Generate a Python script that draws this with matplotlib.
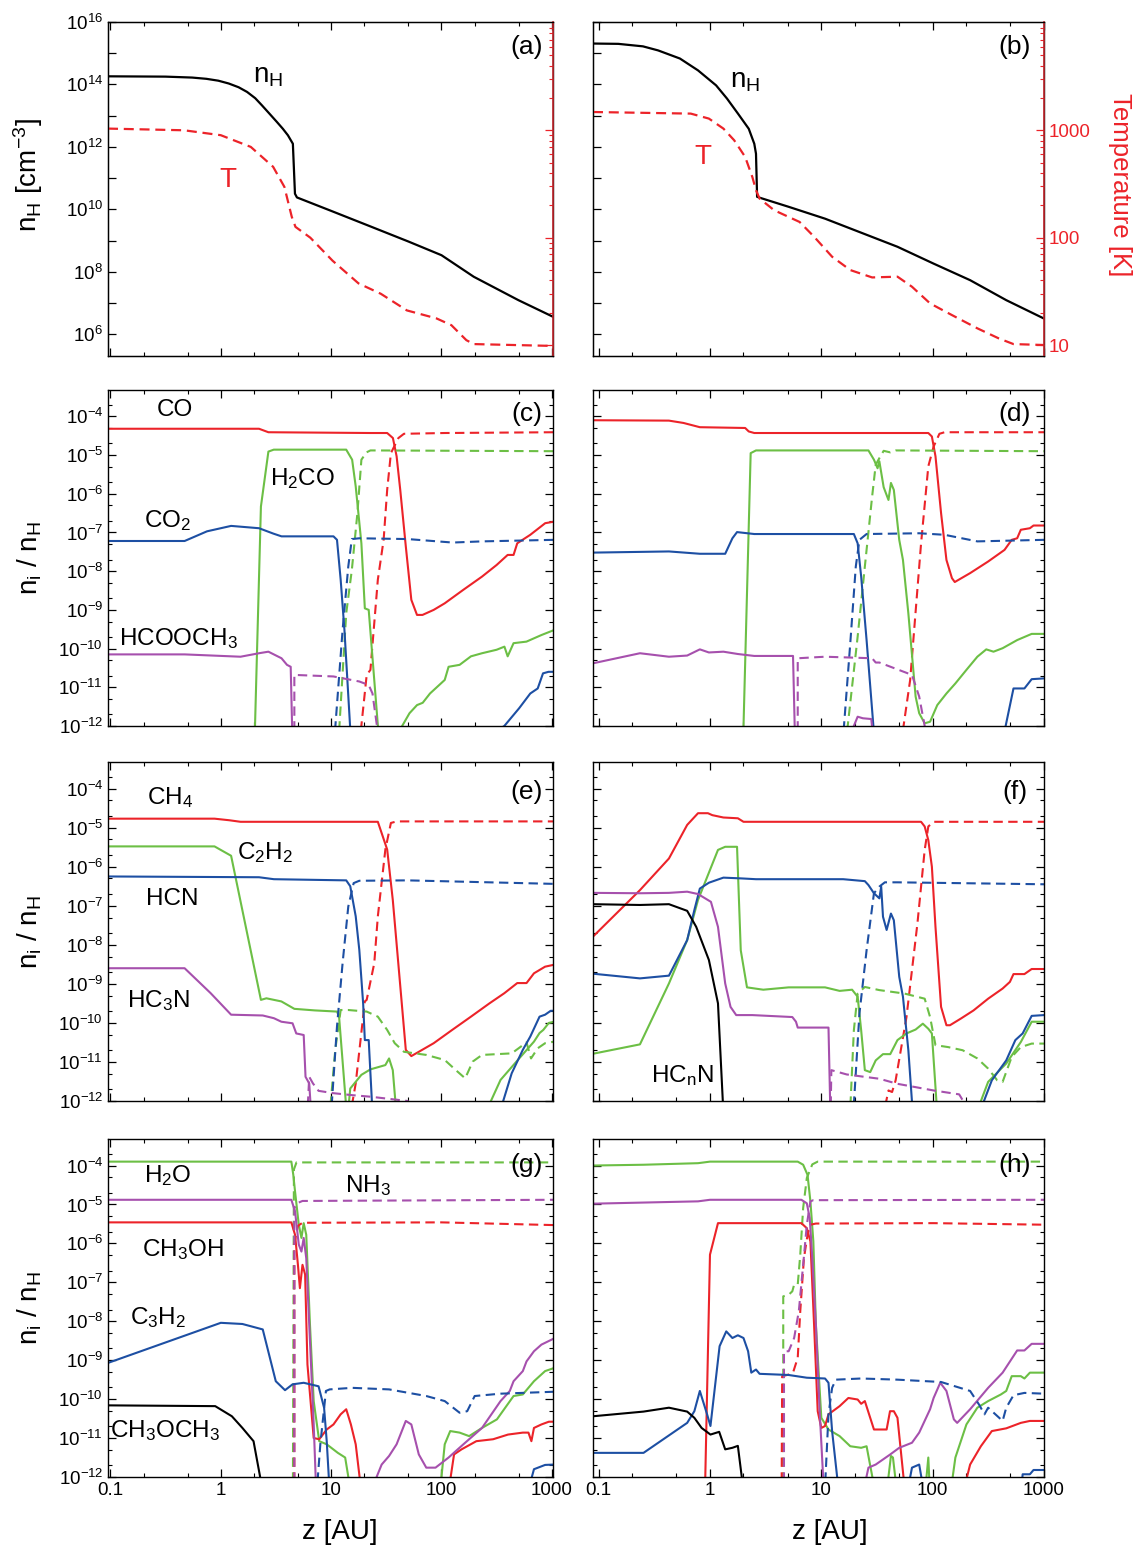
import numpy as np
import matplotlib
matplotlib.use("Agg")
import matplotlib.pyplot as plt
from matplotlib.ticker import FixedLocator, FuncFormatter, NullFormatter

plt.rcParams["font.family"] = ["Liberation Sans", "DejaVu Sans"]
plt.rcParams["mathtext.fontset"] = "custom"
plt.rcParams["mathtext.rm"] = "Liberation Sans"
plt.rcParams["mathtext.it"] = "Liberation Sans:italic"
plt.rcParams["mathtext.default"] = "regular"
plt.rcParams["axes.unicode_minus"] = False

# ---------------- data (z in AU, y as log10 unless noted) ----------------
# panel (a)
a_nh_z = [0.095, 0.315, 0.55, 0.74, 0.95, 1.18, 1.45, 1.73, 2.05, 2.36, 2.75, 3.22, 3.65, 4.06, 4.5, 4.7, 4.9, 10, 22.4, 50, 100, 196, 498, 1050]
a_nh = [14.26, 14.25, 14.22, 14.18, 14.12, 14.03, 13.91, 13.76, 13.56, 13.33, 13.07, 12.8, 12.58, 12.37, 12.1, 10.5, 10.38, 9.95, 9.46, 8.97, 8.53, 7.84, 7.09, 6.54]
a_t_z = [0.095, 0.465, 1.0, 1.87, 2.98, 3.77, 4.4, 4.75, 6.47, 10.3, 17.7, 28.2, 48.6, 90, 123, 168, 196, 1050]
a_t = [1037, 1000, 900, 700, 457, 297, 156, 126, 100, 61, 37.5, 30, 21, 17.7, 15.3, 11.1, 10.2, 9.8]  # K

# panel (b)
b_nh_z = [0.089, 0.15, 0.25, 0.342, 0.537, 0.781, 1.135, 1.42, 1.78, 2.23, 2.5, 2.59, 2.65, 2.75, 5.09, 10.8, 48.3, 102, 217, 458, 1000]
b_nh = [15.31, 15.3, 15.22, 15.09, 14.83, 14.45, 13.97, 13.55, 13.07, 12.58, 12.1, 11.78, 10.4, 10.38, 10.08, 9.7, 8.8, 8.26, 7.73, 7.09, 6.5]
b_t_z = [0.089, 0.672, 0.978, 1.32, 1.65, 2.07, 2.4, 2.59, 2.79, 3.77, 6.38, 8.61, 12.5, 18.2, 28.6, 48.3, 65.2, 94.8, 149, 252, 394, 532, 1000]
b_t = [1480, 1430, 1285, 1037, 807, 565, 368, 277, 231, 180, 140, 102, 66.4, 49.9, 42.6, 43.3, 34.9, 24.4, 19.0, 14.3, 11.5, 10.2, 10.0]  # K

# panel (c)
c_co_z = [0.095, 2.22, 2.7, 22.7, 32.2, 36.3, 39.2, 42.3, 47.5, 53.3, 60, 67.3, 85, 107, 158, 233, 316, 398, 450, 486, 638, 871, 1050]
c_co = [-4.32, -4.32, -4.41, -4.43, -4.43, -4.56, -5.03, -5.9, -7.36, -8.74, -9.13, -9.13, -9.0, -8.83, -8.48, -8.14, -7.84, -7.58, -7.58, -7.28, -7.06, -6.76, -6.72]
c_cod_z = [18.0, 21.0, 22.7, 26.5, 29.9, 32.2, 34.8, 40.7, 45.7, 107, 1050]
c_cod = [-12.5, -10.68, -10.55, -8.22, -7.19, -5.9, -4.95, -4.56, -4.45, -4.43, -4.41]
c_h2co_z = [2.02, 2.31, 2.7, 3.02, 13.7, 15.5, 16.7, 18.8, 20.2, 21.9, 27.4, 40, 44.0, 51.3, 60, 67.6, 78.7, 107, 116, 146, 185, 233, 316, 372, 398, 450, 589, 805, 1050]
c_h2co = [-12.5, -6.33, -4.91, -4.86, -4.86, -5.12, -5.81, -7.28, -8.96, -9.0, -12.5, -13, -12.0, -11.67, -11.46, -11.4, -11.16, -10.81, -10.47, -10.42, -10.2, -10.12, -10.03, -9.95, -10.2, -9.86, -9.82, -9.65, -9.52]
c_h2cod_z = [11.6, 13.7, 15.4, 17.3, 18.8, 20.9, 22.7, 1050]
c_h2cod = [-12.5, -9.09, -7.97, -6.5, -5.12, -4.93, -4.88, -4.9]
c_co2_z = [0.095, 0.47, 0.75, 1.24, 2.22, 3.0, 3.55, 10.5, 11.3, 12.2, 13.2, 15.2, 100, 371, 506, 638, 745, 832, 933, 1050]
c_co2 = [-7.22, -7.22, -6.97, -6.83, -6.89, -7.03, -7.1, -7.1, -7.19, -8.22, -9.52, -12.5, -13, -12.0, -11.54, -11.16, -11.03, -10.64, -10.6, -10.6]
c_co2d_z = [10.6, 12.7, 14.3, 15.4, 18.0, 49.4, 126, 233, 1050]
c_co2d = [-12.5, -9.52, -7.88, -7.17, -7.15, -7.17, -7.26, -7.23, -7.19]
c_hcooch3_z = [0.095, 0.47, 1.51, 2.22, 2.7, 3.55, 3.98, 4.3, 4.47]
c_hcooch3 = [-10.15, -10.15, -10.21, -10.12, -10.08, -10.25, -10.42, -10.47, -12.5]
c_hcooch3d_z = [4.64, 4.64, 10.5, 18.0, 21.9, 23.7, 27.5]
c_hcooch3d = [-12.5, -10.68, -10.72, -10.85, -10.94, -11.16, -12.5]

# panel (d)
d_co_z = [0.089, 0.428, 0.578, 0.811, 2.07, 2.23, 2.5, 91.4, 98.4, 106, 119, 133, 149, 158, 217, 315, 442, 513, 574, 619, 747, 805, 1000]
d_co = [-4.10, -4.11, -4.17, -4.28, -4.30, -4.39, -4.43, -4.43, -4.52, -5.03, -6.5, -7.71, -8.18, -8.28, -8.05, -7.75, -7.45, -7.19, -7.15, -6.93, -6.89, -6.82, -6.82]
d_cod_z = [51.7, 62.8, 78.7, 91.4, 102, 115, 128, 1000]
d_cod = [-12.5, -10.81, -7.28, -5.29, -4.78, -4.45, -4.41, -4.41]
d_h2co_z = [1.98, 2.32, 2.59, 26.5, 29.7, 32.0, 33.2, 36.3, 40.1, 42.2, 44.8, 50.1, 54.1, 60.5, 70.3, 75.7, 84.8, 94.8, 110, 133, 160, 201, 252, 303, 352, 425, 574, 775, 1000]
d_h2co = [-12.5, -4.95, -4.88, -4.88, -5.12, -5.34, -5.16, -5.83, -6.16, -5.72, -5.9, -7.19, -7.71, -9.09, -11.24, -11.67, -11.93, -11.89, -11.46, -11.16, -10.9, -10.55, -10.21, -10.02, -10.08, -9.99, -9.78, -9.62, -9.62]
d_h2cod_z = [16.5, 21.2, 24.6, 28.6, 30.8, 33.2, 36.3, 41.6, 46.5, 1000]
d_h2cod = [-12.5, -9.69, -7.88, -6.07, -5.25, -5.08, -4.89, -4.93, -4.88, -4.9]
d_co2_z = [0.089, 0.428, 0.811, 1.37, 1.59, 1.75, 2.5, 19.6, 21.2, 22.8, 25.5, 30.3, 200, 416, 532, 667, 775, 1000]
d_co2 = [-7.52, -7.49, -7.55, -7.55, -7.15, -6.99, -7.04, -7.04, -7.28, -8.14, -9.78, -12.5, -13, -12.5, -11.03, -11.03, -10.79, -10.77]
d_co2d_z = [15.5, 18.2, 20.4, 22.0, 25.5, 75.7, 128, 252, 1000]
d_co2d = [-12.5, -9.86, -7.88, -7.19, -7.04, -7.02, -7.06, -7.23, -7.19]
d_hcooch3_z = [0.089, 0.235, 0.428, 0.624, 0.811, 0.978, 1.32, 1.78, 2.5, 5.57, 5.82, 12, 16.6, 21.2, 23.6, 28.1, 29.7]
d_hcooch3 = [-10.38, -10.12, -10.21, -10.18, -10.02, -10.1, -10.08, -10.14, -10.19, -10.19, -12.5, -13, -12.5, -11.76, -11.8, -11.82, -12.5]
d_hcooch3d_z = [6.14, 6.14, 10.8, 28.6, 30.8, 33.2, 65.2, 75.7, 84.8, 86.6]
d_hcooch3d = [-12.5, -10.25, -10.21, -10.25, -10.36, -10.36, -10.68, -11.24, -12.0, -12.5]

# panel (e)
e_ch4_z = [0.095, 0.877, 1.19, 1.51, 26.5, 28.7, 32.2, 36.2, 40.6, 47.5, 53.3, 62.3, 85, 125, 185, 272, 371, 486, 590, 689, 869, 1050]
e_ch4 = [-4.77, -4.77, -4.81, -4.85, -4.85, -5.14, -5.56, -6.85, -8.47, -10.69, -10.85, -10.74, -10.52, -10.18, -9.84, -9.5, -9.24, -8.98, -8.98, -8.73, -8.56, -8.51]
e_ch4d_z = [14.6, 16.7, 20.2, 21.0, 24.6, 26.5, 31.0, 34.8, 39.2, 1050]
e_ch4d = [-12.5, -11.55, -9.45, -9.41, -8.47, -7.27, -5.56, -4.88, -4.84, -4.84]
e_c2h2_z = [0.095, 0.877, 1.24, 2.31, 2.59, 3.54, 4.64, 7.11, 11.3, 11.8, 14.0, 14.9, 18.8, 22.7, 31.0, 33.5, 36.2, 39.5, 100, 233, 343, 506, 689, 774, 837, 940, 1050]
e_c2h2 = [-5.48, -5.48, -5.72, -9.41, -9.37, -9.45, -9.64, -9.68, -9.71, -9.84, -12.5, -11.68, -11.33, -11.19, -11.08, -10.91, -11.21, -12.5, -13, -12.5, -11.46, -10.91, -10.48, -10.26, -10.18, -10.0, -9.97]
e_c2h2d_z = [9.6, 10.9, 12.2, 14.3, 21.0, 26.5, 32.2, 37.7, 45.7, 72.8, 107, 135, 164, 192, 233, 433, 590, 648, 745, 869, 1050]
e_c2h2d = [-12.5, -10.69, -9.67, -9.67, -9.71, -9.84, -10.18, -10.52, -10.74, -10.82, -10.95, -11.21, -11.42, -10.99, -10.82, -10.78, -10.5, -10.91, -10.65, -10.52, -10.48]
e_hcn_z = [0.095, 2.22, 3.03, 13.7, 14.9, 16.7, 18.0, 19.5, 20.2, 21.9, 23.9, 100, 320, 433, 546, 638, 774, 869, 977, 1050]
e_hcn = [-6.25, -6.27, -6.32, -6.35, -6.5, -7.27, -8.13, -9.5, -10.44, -10.44, -12.5, -13, -12.5, -11.29, -10.69, -10.35, -9.84, -9.79, -9.69, -9.69]
e_hcnd_z = [9.9, 11.3, 12.7, 14.3, 16.0, 18.0, 49.4, 1050]
e_hcnd = [-12.5, -10.09, -8.47, -7.02, -6.42, -6.36, -6.35, -6.44]
e_hc3n_z = [0.095, 0.47, 0.81, 1.24, 2.4, 3.03, 3.54, 4.47, 4.83, 5.64, 5.86, 6.33, 6.65]
e_hc3n = [-8.6, -8.6, -9.24, -9.79, -9.81, -9.88, -9.97, -10.01, -10.27, -10.31, -11.38, -11.55, -12.5]
e_hc3nd_z = [6.05, 6.33, 6.84, 7.69, 10.5, 15.5, 22.7, 49.4, 53]
e_hc3nd = [-12.5, -11.38, -11.55, -11.74, -11.8, -11.85, -11.89, -12.0, -12.5]

# panel (f)
f_ch4_z = [0.089, 0.235, 0.428, 0.624, 0.781, 0.958, 1.05, 1.32, 1.78, 2.0, 78.7, 84.8, 91.4, 98.4, 106, 119, 133, 143, 179, 233, 315, 425, 494, 532, 667, 775, 1000]
f_ch4 = [-7.79, -6.6, -5.79, -4.93, -4.63, -4.63, -4.68, -4.74, -4.76, -4.85, -4.85, -4.97, -5.32, -6.0, -7.54, -9.59, -10.06, -10.06, -9.89, -9.68, -9.38, -9.12, -8.95, -8.75, -8.75, -8.62, -8.62]
f_ch4d_z = [35.2, 40.1, 43.2, 46.5, 58.2, 73, 84.8, 91.4, 102, 1000]
f_ch4d = [-12.5, -11.73, -11.77, -11.47, -9.85, -7.45, -5.57, -4.97, -4.85, -4.85]
f_c2h2_z = [0.089, 0.235, 0.428, 0.624, 0.781, 1.18, 1.37, 1.75, 1.89, 2.15, 3.01, 5.09, 10.8, 14.6, 18.9, 21.2, 22.8, 24.6, 27.5, 30.8, 35.8, 41.6, 48.3, 58.2, 70.3, 81.6, 91.4, 98.4, 111, 170, 233, 315, 458, 619, 775, 1000]
f_c2h2 = [-10.79, -10.55, -8.99, -7.88, -6.85, -5.57, -5.49, -5.49, -8.14, -9.09, -9.15, -9.09, -9.09, -9.18, -9.15, -9.33, -10.19, -11.21, -11.26, -10.96, -10.8, -10.8, -10.44, -10.27, -10.17, -10.02, -10.15, -10.27, -12.5, -13, -12.5, -11.51, -11.04, -10.49, -9.97, -9.97]
f_c2h2d_z = [18.0, 19.6, 21.2, 24.6, 33.2, 56.1, 84.8, 94.8, 106, 138, 186, 252, 315, 380, 425, 513, 619, 775, 1000]
f_c2h2d = [-12.5, -10.19, -9.25, -9.08, -9.16, -9.25, -9.38, -9.85, -10.57, -10.62, -10.7, -10.91, -11.17, -11.47, -11.51, -10.87, -10.62, -10.53, -10.53]
f_hcn_z = [0.089, 0.235, 0.428, 0.624, 0.724, 0.811, 0.978, 1.32, 1.92, 2.59, 15.7, 24.6, 26.5, 29.7, 33.2, 34.5, 35.8, 38.6, 42.2, 44.8, 50.1, 54.1, 60.5, 67, 150, 248, 340, 458, 553, 643, 775, 1000]
f_hcn = [-8.74, -8.86, -8.79, -7.88, -7.11, -6.56, -6.41, -6.28, -6.3, -6.32, -6.32, -6.37, -6.47, -6.68, -6.81, -6.51, -7.28, -7.62, -7.2, -7.37, -8.82, -9.33, -10.7, -12.5, -13, -12.5, -11.47, -10.96, -10.44, -10.27, -9.82, -9.8]
f_hcnd_z = [19.2, 22.0, 25.5, 29.7, 33.2, 37.2, 48.3, 1000]
f_hcnd = [-12.5, -9.76, -8.14, -6.68, -6.51, -6.4, -6.4, -6.45]
f_hc3n_z = [0.089, 0.235, 0.428, 0.624, 0.781, 1.02, 1.18, 1.37, 1.53, 1.72, 2.4, 5.49, 5.92, 6.14, 11.6, 12.1]
f_hc3n = [-6.67, -6.68, -6.67, -6.64, -6.7, -6.9, -7.54, -8.99, -9.59, -9.8, -9.8, -9.85, -9.97, -10.12, -10.12, -12.5]
f_hc3nd_z = [12.1, 12.3, 16.9, 22.8, 33.2, 48.3, 102, 173, 240]
f_hc3nd = [-12.5, -11.21, -11.32, -11.37, -11.43, -11.56, -11.73, -11.83, -12.5]
f_hcnn_z = [0.089, 0.235, 0.428, 0.624, 0.752, 0.978, 1.18, 1.33]
f_hcnn = [-6.96, -6.98, -6.96, -7.13, -7.54, -8.39, -9.5, -12.5]

# panel (g)
g_h2o_z = [0.095, 4.36, 4.54, 4.71, 5.09, 5.38, 5.64, 5.95, 6.43, 6.95, 7.8, 9.12, 11.5, 13.4, 15.3, 50, 96, 107, 120, 146, 178, 233, 318, 450, 546, 689, 869, 1050]
g_h2o = [-3.9, -3.9, -4.24, -4.67, -5.52, -5.86, -5.48, -5.78, -8.09, -10.05, -11.08, -11.16, -11.38, -11.5, -12.5, -13, -12.5, -11.16, -10.82, -10.86, -10.95, -10.74, -10.52, -9.92, -9.88, -9.54, -9.28, -9.2]
g_h2od_z = [4.5, 4.6, 4.85, 1050]
g_h2od = [-12.5, -4.1, -3.92, -3.92]
g_nh3_z = [0.095, 4.36, 4.71, 5.09, 5.38, 5.64, 5.95, 6.43, 6.95, 7.35, 15, 21.9, 28.7, 33.5, 39.2, 47.5, 53.3, 62.3, 72.8, 88.3, 116, 158, 233, 343, 416, 450, 546, 590, 689, 805, 1050]
g_nh3 = [-4.88, -4.88, -5.18, -6.03, -6.21, -5.86, -6.38, -8.51, -10.65, -12.5, -13, -12.5, -11.68, -11.46, -11.16, -10.56, -10.65, -11.42, -11.76, -11.76, -11.5, -11.16, -10.74, -10.05, -9.79, -9.54, -9.28, -9.03, -8.77, -8.6, -8.44]
g_nh3d_z = [4.64, 4.64, 4.9, 5.5, 1050]
g_nh3d = [-12.5, -5.1, -4.97, -4.91, -4.88]
g_ch3oh_z = [0.095, 4.36, 4.71, 5.0, 5.21, 5.5, 5.81, 6.1, 6.95, 7.8, 9.12, 10.5, 12.2, 13.7, 15.1, 16.7, 19.0, 60, 114, 130, 152, 207, 294, 401, 546, 614, 653, 689, 805, 940, 1050]
g_ch3oh = [-5.46, -5.46, -5.78, -6.55, -7.15, -6.55, -6.8, -9.11, -11.0, -11.03, -10.78, -10.65, -10.39, -10.26, -10.65, -11.16, -12.5, -13, -12.5, -11.42, -11.29, -11.08, -11.03, -10.91, -10.86, -10.86, -11.08, -10.74, -10.65, -10.58, -10.58]
g_ch3ohd_z = [4.64, 4.64, 5.0, 5.5, 100, 1050]
g_ch3ohd = [-12.5, -6.0, -5.55, -5.47, -5.46, -5.53]
g_c3h2_z = [0.095, 1.0, 1.57, 2.4, 3.15, 3.82, 4.47, 5.64, 7.69, 8.63, 9.12, 9.75, 100, 590, 689, 869, 1050]
g_c3h2 = [-9.07, -8.04, -8.07, -8.21, -9.54, -9.77, -9.62, -9.58, -9.67, -10.22, -11.08, -12.5, -13, -12.5, -11.8, -11.69, -11.68]
g_c3h2d_z = [7.35, 7.98, 8.97, 9.7, 15.5, 33.5, 72.8, 107, 146, 171, 200, 343, 1050]
g_c3h2d = [-12.5, -11.16, -9.79, -9.75, -9.71, -9.75, -9.92, -10.05, -10.35, -10.31, -9.92, -9.86, -9.81]
g_dme_z = [0.095, 0.89, 1.26, 1.57, 1.98, 2.45]
g_dme = [-10.16, -10.18, -10.44, -10.74, -11.08, -12.5]

# panel (h)
h_h2o_z = [0.089, 0.253, 0.781, 1.0, 6.14, 6.87, 7.52, 7.98, 8.48, 8.94, 10.0, 11.6, 14.6, 18.2, 22.8, 25.5, 31.0, 38.2, 42.2, 44.0, 48.3, 84.8, 91.4, 94.8, 120, 143, 160, 201, 252, 315, 410, 458, 513, 619, 667, 747, 1000]
h_h2o = [-4.0, -3.98, -3.94, -3.9, -3.9, -3.98, -4.24, -4.92, -5.95, -8.09, -10.48, -10.78, -10.95, -11.21, -11.25, -11.21, -12.5, -12.5, -11.46, -11.5, -12.5, -12.5, -11.5, -12.5, -13, -12.5, -11.5, -10.65, -10.22, -10.05, -9.88, -9.79, -9.41, -9.41, -9.47, -9.32, -9.32]
h_h2od_z = [4.55, 4.55, 5.09, 5.49, 5.7, 6.14, 6.47, 6.87, 7.41, 8.3, 9.28, 1000]
h_h2od = [-12.5, -7.36, -7.32, -7.23, -7.06, -7.06, -6.29, -5.09, -4.32, -3.97, -3.9, -3.9]
h_nh3_z = [0.089, 0.781, 1.0, 6.62, 7.41, 7.87, 8.3, 8.94, 9.63, 10.6, 16, 23.3, 26.5, 30.8, 35.8, 41.6, 50.1, 65.2, 75.7, 94.8, 102, 117, 133, 155, 166, 217, 315, 425, 574, 667, 775, 1000]
h_nh3 = [-4.98, -4.92, -4.88, -4.88, -4.97, -5.35, -6.38, -8.09, -10.22, -12.5, -13, -12.5, -11.76, -11.68, -11.55, -11.42, -11.25, -11.12, -10.86, -10.26, -9.97, -9.58, -9.79, -10.52, -10.61, -10.26, -9.71, -9.32, -8.75, -8.75, -8.58, -8.58]
h_nh3d_z = [4.62, 4.62, 5.09, 5.7, 6.28, 6.87, 7.41, 7.98, 8.48, 1000]
h_nh3d = [-12.5, -8.77, -8.77, -8.43, -7.74, -6.55, -5.52, -4.92, -4.89, -4.88]
h_ch3oh_z = [0.9, 1.0, 1.18, 6.62, 7.41, 7.98, 8.61, 9.28, 10.0, 10.8, 11.6, 14.6, 17.5, 21.2, 22.8, 24.6, 29.7, 38.6, 41.4, 44.8, 48.3, 57, 120, 184, 217, 271, 340, 458, 619, 747, 1000]
h_ch3oh = [-12.5, -6.29, -5.48, -5.48, -5.61, -5.95, -8.09, -10.31, -10.74, -10.69, -10.39, -10.18, -9.97, -10.01, -10.12, -10.05, -10.78, -10.78, -10.31, -10.31, -10.48, -12.5, -13, -12.5, -11.68, -11.21, -10.82, -10.75, -10.61, -10.56, -10.56]
h_ch3ohd_z = [4.4, 4.45, 5.09, 5.57, 6.14, 6.47, 6.98, 7.52, 7.98, 8.94, 102, 1000]
h_ch3ohd = [-12.5, -9.41, -9.37, -9.32, -8.94, -7.74, -6.38, -5.78, -5.52, -5.49, -5.48, -5.52]
h_c3h2_z = [0.089, 0.253, 0.624, 0.724, 0.811, 0.942, 1.01, 1.22, 1.4, 1.59, 1.78, 2.0, 2.2, 2.35, 2.59, 2.79, 5.09, 7.41, 10.8, 11.6, 12.5, 14.5, 40, 58.2, 65.2, 75.7, 84.8, 300, 619, 643, 747, 805, 1000]
h_c3h2 = [-11.38, -11.38, -10.61, -10.31, -9.79, -10.39, -10.69, -8.64, -8.26, -8.43, -8.36, -8.43, -8.77, -9.32, -9.24, -9.35, -9.38, -9.45, -9.47, -9.58, -10.82, -12.5, -13, -12.5, -11.76, -11.68, -12.5, -13, -12.5, -11.93, -11.93, -11.82, -11.82]
h_c3h2d_z = [10.7, 11.6, 12.5, 13.5, 22.8, 48.3, 119, 217, 261, 292, 315, 366, 425, 458, 532, 667, 1000]
h_c3h2d = [-12.5, -10.39, -9.71, -9.5, -9.47, -9.5, -9.56, -9.79, -10.14, -10.39, -10.22, -10.39, -10.56, -10.22, -9.9, -9.84, -9.86]
h_dme_z = [0.089, 0.253, 0.428, 0.624, 0.724, 0.841, 1.01, 1.21, 1.37, 1.59, 1.78, 2.03]
h_dme = [-10.44, -10.32, -10.22, -10.32, -10.48, -10.74, -10.91, -10.84, -11.29, -11.25, -11.2, -12.5]

# ---------------- styling ----------------
RED = "#ec2329"
GREEN = "#6cbf45"
BLUE = "#1d4fa3"
PURPLE = "#a650ad"
BLACK = "#000000"
SPINE_RED = "#c1272d"
DASH = (0, (4.5, 2.6))

W, H = 1138, 1556
fig = plt.figure(figsize=(W / 100, H / 100), dpi=100)

cols = [(108, 553, (0.095, 1025)), (593, 1044, (0.089, 1000))]
rows = [(22, 356), (390, 726), (762, 1101), (1139, 1477)]


def make_ax(ci, ri):
    x0, x1, xl = cols[ci]
    y0, y1 = rows[ri]
    ax = fig.add_axes([x0 / W, 1 - y1 / H, (x1 - x0) / W, (y1 - y0) / H])
    ax.set_xscale("log")
    ax.set_yscale("log")
    ax.set_xlim(*xl)
    ax.xaxis.set_major_locator(FixedLocator([0.1, 1, 10, 100, 1000]))
    ax.xaxis.set_minor_locator(FixedLocator([0.2, 0.5, 2, 5, 20, 50, 200, 500]))
    ax.xaxis.set_minor_formatter(NullFormatter())
    if ri == 3:
        ax.xaxis.set_major_formatter(FuncFormatter(lambda v, p: "%g" % v))
    else:
        ax.xaxis.set_major_formatter(NullFormatter())
    ax.tick_params(which="both", direction="in", top=True, labelsize=13.5)
    ax.tick_params(which="major", length=6, width=0.9)
    ax.tick_params(which="minor", length=3, width=0.8)
    for s in ax.spines.values():
        s.set_linewidth(1.0)
    return ax


def abund_ax(ci, ri):
    ax = make_ax(ci, ri)
    ax.set_ylim(1e-12, 4.8e-4)
    ax.yaxis.set_major_locator(FixedLocator([10.0 ** k for k in range(-12, -3)]))
    ax.yaxis.set_minor_locator(FixedLocator([m * 10.0 ** k for k in range(-12, -3) for m in (2, 5)]))
    ax.yaxis.set_minor_formatter(NullFormatter())
    ax.tick_params(which="both", right=True)
    if ci == 0:
        ax.yaxis.set_major_formatter(FuncFormatter(lambda v, p: r"$10^{%d}$" % round(np.log10(v))))
    else:
        ax.yaxis.set_major_formatter(NullFormatter())
    return ax


def draw(ax, z, logv, color, dashed=False):
    ax.plot(z, 10.0 ** np.asarray(logv), color=color, lw=1.5,
            ls=DASH if dashed else "-", solid_joinstyle="round")


def struct_ax(ci, nz, nh, tz, tv):
    ax = make_ax(ci, 0)
    ax.set_ylim(2e5, 1e16)
    ax.yaxis.set_major_locator(FixedLocator([10.0 ** k for k in range(6, 17)]))
    ax.yaxis.set_minor_locator(FixedLocator([]))
    if ci == 0:
        ax.yaxis.set_major_formatter(FuncFormatter(
            lambda v, p: r"$10^{%d}$" % round(np.log10(v)) if round(np.log10(v)) % 2 == 0 else ""))
    else:
        ax.yaxis.set_major_formatter(NullFormatter())
    ax.plot(nz, 10.0 ** np.asarray(nh), color=BLACK, lw=1.6, solid_joinstyle="round")
    tax = ax.twinx()
    tax.set_yscale("log")
    tax.set_ylim(7.9, 1.02e4)
    tax.plot(tz, tv, color=RED, lw=1.6, ls=DASH)
    tax.yaxis.set_major_locator(FixedLocator([10, 100, 1000]))
    tax.yaxis.set_minor_locator(FixedLocator([m * 10.0 ** k for k in range(1, 4) for m in range(2, 10)]))
    tax.yaxis.set_minor_formatter(NullFormatter())
    if ci == 1:
        tax.yaxis.set_major_formatter(FuncFormatter(lambda v, p: "%d" % v))
    else:
        tax.yaxis.set_major_formatter(NullFormatter())
    tax.tick_params(which="both", direction="in", colors=RED, labelsize=13.5)
    tax.tick_params(which="major", length=6, width=0.9)
    tax.tick_params(which="minor", length=3, width=0.8)
    tax.spines["right"].set_color(SPINE_RED)
    tax.spines["right"].set_linewidth(1.2)
    return ax


def label(x, y, s, size=17.5, color="black", **kw):
    fig.text(x / W, 1 - y / H, s, fontsize=size, color=color, ha="center", va="center", **kw)


# (a), (b)
struct_ax(0, a_nh_z, a_nh, a_t_z, a_t)
struct_ax(1, b_nh_z, b_nh, b_t_z, b_t)

# (c)
ax = abund_ax(0, 1)
draw(ax, c_co_z, c_co, RED)
draw(ax, c_cod_z, c_cod, RED, True)
draw(ax, c_h2co_z, c_h2co, GREEN)
draw(ax, c_h2cod_z, c_h2cod, GREEN, True)
draw(ax, c_co2_z, c_co2, BLUE)
draw(ax, c_co2d_z, c_co2d, BLUE, True)
draw(ax, c_hcooch3_z, c_hcooch3, PURPLE)
draw(ax, c_hcooch3d_z, c_hcooch3d, PURPLE, True)

# (d)
ax = abund_ax(1, 1)
draw(ax, d_co_z, d_co, RED)
draw(ax, d_cod_z, d_cod, RED, True)
draw(ax, d_h2co_z, d_h2co, GREEN)
draw(ax, d_h2cod_z, d_h2cod, GREEN, True)
draw(ax, d_co2_z, d_co2, BLUE)
draw(ax, d_co2d_z, d_co2d, BLUE, True)
draw(ax, d_hcooch3_z, d_hcooch3, PURPLE)
draw(ax, d_hcooch3d_z, d_hcooch3d, PURPLE, True)

# (e)
ax = abund_ax(0, 2)
draw(ax, e_ch4_z, e_ch4, RED)
draw(ax, e_ch4d_z, e_ch4d, RED, True)
draw(ax, e_c2h2_z, e_c2h2, GREEN)
draw(ax, e_c2h2d_z, e_c2h2d, GREEN, True)
draw(ax, e_hcn_z, e_hcn, BLUE)
draw(ax, e_hcnd_z, e_hcnd, BLUE, True)
draw(ax, e_hc3n_z, e_hc3n, PURPLE)
draw(ax, e_hc3nd_z, e_hc3nd, PURPLE, True)

# (f)
ax = abund_ax(1, 2)
draw(ax, f_ch4_z, f_ch4, RED)
draw(ax, f_ch4d_z, f_ch4d, RED, True)
draw(ax, f_c2h2_z, f_c2h2, GREEN)
draw(ax, f_c2h2d_z, f_c2h2d, GREEN, True)
draw(ax, f_hcn_z, f_hcn, BLUE)
draw(ax, f_hcnd_z, f_hcnd, BLUE, True)
draw(ax, f_hc3n_z, f_hc3n, PURPLE)
draw(ax, f_hc3nd_z, f_hc3nd, PURPLE, True)
draw(ax, f_hcnn_z, f_hcnn, BLACK)

# (g)
ax = abund_ax(0, 3)
draw(ax, g_h2o_z, g_h2o, GREEN)
draw(ax, g_h2od_z, g_h2od, GREEN, True)
draw(ax, g_ch3oh_z, g_ch3oh, RED)
draw(ax, g_ch3ohd_z, g_ch3ohd, RED, True)
draw(ax, g_nh3_z, g_nh3, PURPLE)
draw(ax, g_nh3d_z, g_nh3d, PURPLE, True)
draw(ax, g_c3h2_z, g_c3h2, BLUE)
draw(ax, g_c3h2d_z, g_c3h2d, BLUE, True)
draw(ax, g_dme_z, g_dme, BLACK)

# (h)
ax = abund_ax(1, 3)
draw(ax, h_h2o_z, h_h2o, GREEN)
draw(ax, h_h2od_z, h_h2od, GREEN, True)
draw(ax, h_ch3oh_z, h_ch3oh, RED)
draw(ax, h_ch3ohd_z, h_ch3ohd, RED, True)
draw(ax, h_nh3_z, h_nh3, PURPLE)
draw(ax, h_nh3d_z, h_nh3d, PURPLE, True)
draw(ax, h_c3h2_z, h_c3h2, BLUE)
draw(ax, h_c3h2d_z, h_c3h2d, BLUE, True)
draw(ax, h_dme_z, h_dme, BLACK)

# ---------------- text ----------------
for x, y, s in [(527, 47, "(a)"), (1015, 47, "(b)"), (527, 414, "(c)"), (1015, 414, "(d)"),
                (527, 792, "(e)"), (1015, 792, "(f)"), (527, 1165, "(g)"), (1015, 1165, "(h)")]:
    label(x, y, s, size=19)

label(268, 76, r"n$_{H}$", size=20)
label(228, 180, "T", size=20, color=RED)
label(745, 81, r"n$_{H}$", size=20)
label(703, 157, "T", size=20, color=RED)

label(175, 410, "CO")
label(302, 479, r"H$_{2}$CO")
label(168, 521, r"CO$_{2}$")
label(178, 639, r"HCOOCH$_{3}$")
label(170, 798, r"CH$_{4}$")
label(265, 853, r"C$_{2}$H$_{2}$")
label(172, 899, "HCN")
label(158, 1001, r"HC$_{3}$N")
label(682, 1076, r"HC$_{n}$N")
label(168, 1176, r"H$_{2}$O")
label(368, 1186, r"NH$_{3}$")
label(183, 1250, r"CH$_{3}$OH")
label(158, 1318, r"C$_{3}$H$_{2}$")
label(165, 1431, r"CH$_{3}$OCH$_{3}$")

label(28, 175, r"n$_{H}$ [cm$^{-3}$]", size=20, rotation=90)
for yc in (558, 932, 1308):
    label(30, yc, r"n$_{i}$ / n$_{H}$", size=20, rotation=90)
label(1120, 185, "Temperature [K]", size=18.5, color=RED, rotation=-90)
label(340, 1532, "z [AU]", size=20)
label(830, 1532, "z [AU]", size=20)

fig.savefig("out.png", dpi=100)
